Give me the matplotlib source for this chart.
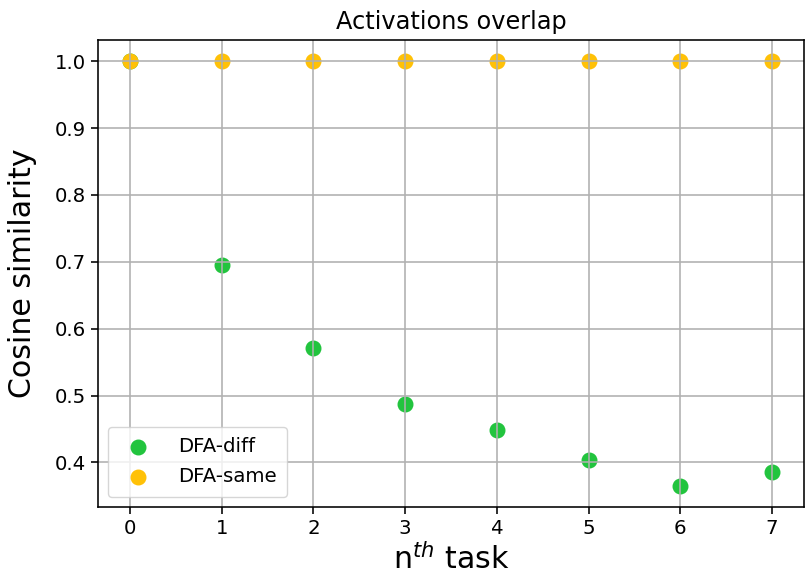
import matplotlib
matplotlib.use('Agg')
import matplotlib.pyplot as plt

# cosine similarity of activations after each task
tasks = [0, 1, 2, 3, 4, 5, 6, 7]
dfa_diff = [1.0, 0.695, 0.571, 0.487, 0.449, 0.404, 0.365, 0.385]
dfa_same = [1.0, 1.0, 1.0, 1.0, 1.0, 1.0, 1.0, 1.0]

GREEN = '#22c43e'
ORANGE = '#ffc107'

fig = plt.figure(figsize=(8.06, 5.82), dpi=100)
ax = fig.add_axes([98 / 806, 1 - 507 / 582, 706 / 806, 467 / 582])

ax.scatter(tasks, dfa_diff, s=110, c=GREEN, label='DFA-diff')
ax.scatter(tasks, dfa_same, s=110, c=ORANGE, label='DFA-same')

ax.set_title('Activations overlap', fontsize=17.3, pad=8)
ax.set_xlabel(r'n$^{th}$ task', fontsize=21.6)
ax.set_ylabel('Cosine similarity', fontsize=21.6, labelpad=13)
ax.tick_params(labelsize=14.2, length=5, width=1.15)
for sp in ax.spines.values():
    sp.set_linewidth(1.15)
ax.set_xticks(tasks)
ax.grid(True, color='#b0b0b0', lw=1.15)
ax.legend(loc='lower left', fontsize=14.2, borderpad=0.55,
          handletextpad=1.0, labelspacing=0.55)

fig.savefig('out.png', dpi=100)
